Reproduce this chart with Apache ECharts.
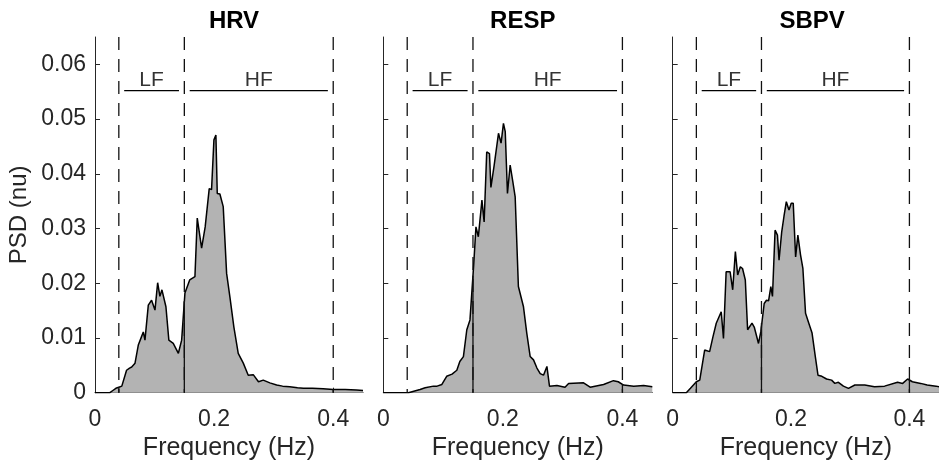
<!DOCTYPE html>
<html>
<head>
<meta charset="utf-8">
<script src="https://cdn.jsdelivr.net/npm/echarts@6/dist/echarts.min.js"></script>
<style>
  html, body { margin: 0; padding: 0; background: #fff; }
  #chart { width: 939px; height: 468px; }
</style>
</head>
<body>
<div id="chart"></div>
<script>
const panelTitles = ['HRV', 'RESP', 'SBPV'];
const xMax = 0.45;
const yMax = 0.065;
const xTicks = [0, 0.2, 0.4];
const yTicks = [0, 0.01, 0.02, 0.03, 0.04, 0.05, 0.06];

// band edges (Hz) and the LF / HF brackets
const bandEdges = [0.04, 0.15, 0.4];
const bandNames = ['LF', 'HF'];
const bandLabelFreq = [0.095, 0.275];
const bandBarStart = [0.049, 0.159];
const bandBarEnd = [0.141, 0.391];
const bandBarLevel = 0.0552;
const bandLabelLevel = 0.0571;

const hrvFreq = [0, 0.025, 0.03, 0.035, 0.04, 0.045, 0.0476, 0.053, 0.058, 0.0616, 0.0672, 0.0727, 0.078, 0.0811, 0.0839, 0.0895,
  0.095, 0.1007, 0.1052, 0.109, 0.1124, 0.1191, 0.124, 0.1314, 0.14, 0.1455, 0.151, 0.159, 0.1678, 0.1717, 0.179, 0.185,
  0.1918, 0.1957, 0.1997, 0.203, 0.2053, 0.2097, 0.2153, 0.221, 0.2265, 0.2332, 0.2405, 0.249, 0.2573, 0.2657, 0.2745,
  0.2825, 0.2936, 0.305, 0.315, 0.327, 0.34, 0.35, 0.365, 0.383, 0.4, 0.42, 0.439, 0.45];
const hrvPsd = [0, 0, 0.0004, 0.0008, 0.0010, 0.0012, 0.0014, 0.0041, 0.0045, 0.0047, 0.0054, 0.0087, 0.0102, 0.0111, 0.0096, 0.0160,
  0.0169, 0.0151, 0.0201, 0.0176, 0.0188, 0.0157, 0.0096, 0.0090, 0.0072, 0.0096, 0.0182, 0.0206, 0.0212, 0.0319, 0.0264, 0.0303,
  0.0373, 0.0371, 0.0462, 0.0471, 0.0364, 0.0363, 0.0340, 0.0218, 0.0175, 0.0120, 0.0072, 0.0054, 0.0032, 0.0033, 0.0020,
  0.0023, 0.0018, 0.0014, 0.0012, 0.0011, 0.0009, 0.0008, 0.0008, 0.0007, 0.0006, 0.0006, 0.0005, 0.0004];

const respFreq = [0, 0.042, 0.0615, 0.07, 0.0838, 0.09, 0.098, 0.106, 0.115, 0.123, 0.128, 0.134, 0.1397, 0.145, 0.151, 0.155,
  0.159, 0.165, 0.1687, 0.173, 0.1776, 0.18, 0.1855, 0.1927, 0.197, 0.201, 0.204, 0.2077, 0.2122, 0.2166, 0.2206, 0.226,
  0.2345, 0.24, 0.2457, 0.2513, 0.257, 0.2625, 0.268, 0.2737, 0.278, 0.2904, 0.304, 0.31, 0.335, 0.346, 0.3685, 0.385,
  0.393, 0.402, 0.419, 0.4355, 0.45];
const respPsd = [0, 0, 0.0006, 0.0009, 0.0012, 0.0012, 0.0015, 0.0030, 0.0034, 0.0041, 0.0057, 0.0066, 0.0115, 0.0133, 0.0230, 0.0303,
  0.0285, 0.0352, 0.0312, 0.0440, 0.0437, 0.0375, 0.0416, 0.0474, 0.0456, 0.0492, 0.0477, 0.0364, 0.0416, 0.0386, 0.0358, 0.0194,
  0.0157, 0.0109, 0.0066, 0.0060, 0.0045, 0.0035, 0.0032, 0.0048, 0.0012, 0.0013, 0.0010, 0.0017, 0.0018, 0.0010, 0.0015, 0.0022,
  0.0020, 0.0014, 0.0012, 0.0013, 0.0011];

const sbpvFreq = [0, 0.023, 0.03, 0.04, 0.0457, 0.054, 0.0624, 0.068, 0.0736, 0.082, 0.0858, 0.0903, 0.097, 0.1014, 0.1059, 0.1098,
  0.1143, 0.118, 0.1227, 0.1266, 0.1295, 0.134, 0.1378, 0.145, 0.149, 0.1546, 0.1585, 0.162, 0.1658, 0.1686, 0.173, 0.177,
  0.1797, 0.1842, 0.188, 0.192, 0.1965, 0.2003, 0.2037, 0.2077, 0.2115, 0.216, 0.22, 0.2245, 0.23, 0.2355, 0.241, 0.2455,
  0.252, 0.26, 0.2685, 0.274, 0.28, 0.2885, 0.297, 0.3078, 0.3245, 0.341, 0.358, 0.38, 0.3886, 0.397, 0.405, 0.419, 0.43,
  0.445, 0.45];
const sbpvPsd = [0, 0, 0.0008, 0.0020, 0.0023, 0.0078, 0.0075, 0.0102, 0.0127, 0.0148, 0.0099, 0.0221, 0.0221, 0.0188, 0.0258, 0.0215,
  0.0230, 0.0227, 0.0206, 0.0115, 0.0112, 0.0127, 0.0120, 0.0090, 0.0112, 0.0163, 0.0169, 0.0168, 0.0194, 0.0176, 0.0297, 0.0288,
  0.0242, 0.0294, 0.0322, 0.0349, 0.0334, 0.0346, 0.0346, 0.0248, 0.0288, 0.0252, 0.0227, 0.0145, 0.0127, 0.0109, 0.0066, 0.0032,
  0.0030, 0.0025, 0.0023, 0.0017, 0.0019, 0.0012, 0.0008, 0.0014, 0.0014, 0.0011, 0.0012, 0.0019, 0.0017, 0.0025, 0.0020, 0.0017, 0.0014,
  0.0012, 0.0011];

const spectra = [[hrvFreq, hrvPsd], [respFreq, respPsd], [sbpvFreq, sbpvPsd]];

const font = 'Liberation Sans, Arial, Helvetica, sans-serif';
const axisColor = '#262626';
const panelLeft = [95, 383.3, 672.7];
const panelWidth = [268, 269, 269];
const gridTop = 37;
const gridHeight = 355.7;

function interp(fs, vs, f) {
  for (let i = 1; i < fs.length; i++) {
    if (fs[i] >= f) {
      const t = (f - fs[i - 1]) / (fs[i] - fs[i - 1]);
      return vs[i - 1] + t * (vs[i] - vs[i - 1]);
    }
  }
  return vs[vs.length - 1];
}

const grid = [], xAxis = [], yAxis = [], series = [], title = [];

panelTitles.forEach((name, i) => {
  grid.push({left: panelLeft[i], top: gridTop, width: panelWidth[i], height: gridHeight});
  title.push({
    text: name,
    left: panelLeft[i] + panelWidth[i] / 2,
    top: 4,
    textAlign: 'center',
    textStyle: {fontFamily: font, fontSize: 24, fontWeight: 'bold', color: '#000'}
  });
  xAxis.push({
    type: 'value', gridIndex: i, min: 0, max: xMax,
    name: 'Frequency (Hz)', nameLocation: 'middle', nameGap: 32,
    nameTextStyle: {fontFamily: font, fontSize: 25, color: axisColor},
    splitLine: {show: false},
    axisLine: {show: true, lineStyle: {color: axisColor, width: 1}},
    axisTick: {show: true, inside: true, length: 5, lineStyle: {color: axisColor}, customValues: xTicks},
    axisLabel: {fontFamily: font, fontSize: 23, color: axisColor, margin: 15, customValues: xTicks}
  });
  yAxis.push({
    type: 'value', gridIndex: i, min: 0, max: yMax,
    name: i === 0 ? 'PSD (nu)' : '', nameLocation: 'middle', nameGap: 64,
    nameTextStyle: {fontFamily: font, fontSize: 24, color: axisColor},
    splitLine: {show: false},
    axisLine: {show: true, lineStyle: {color: axisColor, width: 1}},
    axisTick: {show: true, inside: true, length: 5, lineStyle: {color: axisColor}, customValues: yTicks},
    axisLabel: {show: i === 0, fontFamily: font, fontSize: 23, color: axisColor, margin: 9, customValues: yTicks}
  });

  const [fs, vs] = spectra[i];
  series.push({
    type: 'line', xAxisIndex: i, yAxisIndex: i,
    data: fs.map((f, k) => [f, vs[k]]),
    showSymbol: false, animation: false, silent: true,
    lineStyle: {color: '#000', width: 1.5},
    areaStyle: {color: '#b3b3b3', opacity: 1},
    z: 2
  });

  bandEdges.forEach(f => {
    // dashed band edge, full height
    series.push({
      type: 'line', xAxisIndex: i, yAxisIndex: i,
      data: [[f, yMax], [f, 0]],
      showSymbol: false, animation: false, silent: true,
      lineStyle: {color: '#111', width: 1.3, type: [13, 9]},
      z: 3
    });
    // patch edge under the curve
    series.push({
      type: 'line', xAxisIndex: i, yAxisIndex: i,
      data: [[f, 0], [f, interp(fs, vs, f)]],
      showSymbol: false, animation: false, silent: true,
      lineStyle: {color: '#111', width: 1.3},
      z: 3
    });
  });

  bandNames.forEach((b, k) => {
    series.push({
      type: 'line', xAxisIndex: i, yAxisIndex: i,
      data: [[bandBarStart[k], bandBarLevel], [bandBarEnd[k], bandBarLevel]],
      showSymbol: false, animation: false, silent: true,
      lineStyle: {color: '#000', width: 1.3},
      z: 3
    });
    series.push({
      type: 'scatter', xAxisIndex: i, yAxisIndex: i,
      data: [[bandLabelFreq[k], bandLabelLevel]],
      symbolSize: 0, animation: false, silent: true,
      label: {show: true, position: 'inside', formatter: b, fontFamily: font, fontSize: 21, color: '#000'},
      z: 4
    });
  });
});

const chart = echarts.init(document.getElementById('chart'));
chart.setOption({
  backgroundColor: '#fff',
  animation: false,
  title: title,
  grid: grid,
  xAxis: xAxis,
  yAxis: yAxis,
  series: series
});
</script>
</body>
</html>
